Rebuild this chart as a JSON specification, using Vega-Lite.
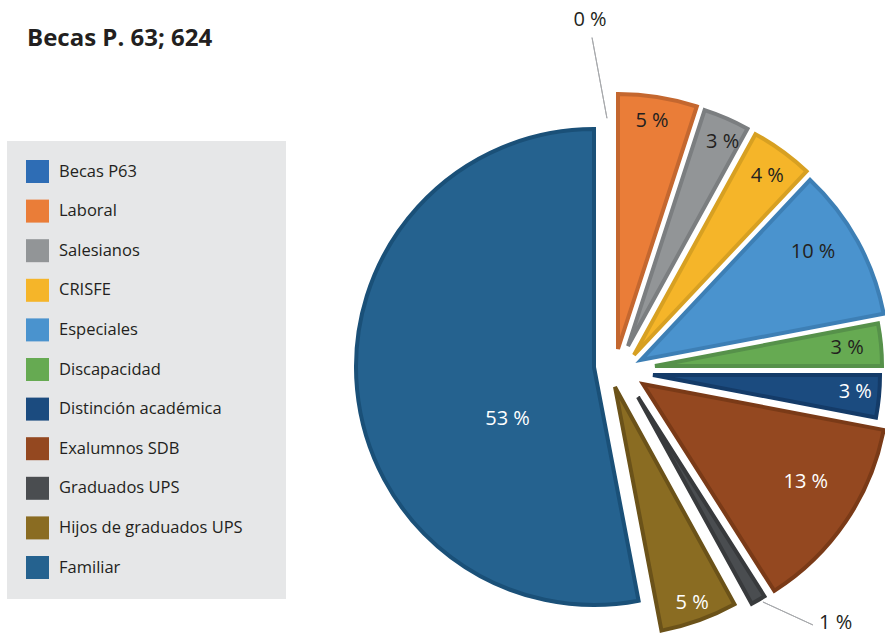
{
  "$schema": "https://vega.github.io/schema/vega-lite/v6.json",
  "width": 582,
  "height": 538,
  "padding": {"left": 303, "top": 98, "right": 0, "bottom": 0},
  "autosize": {"type": "none"},
  "background": "white",
  "title": {"text": "Becas P. 63; 624", "anchor": "start", "frame": "group", "dx": -276, "offset": -41, "font": "Open Sans", "fontSize": 24, "fontWeight": "bold", "color": "#231f20"},
  "config": {"view": {"stroke": null}},
  "data": {"values": [
    {"cat": "Becas P63", "pct": 0, "label": "0 %"},
    {"cat": "Laboral", "pct": 5, "label": "5 %"},
    {"cat": "Salesianos", "pct": 3, "label": "3 %"},
    {"cat": "CRISFE", "pct": 4, "label": "4 %"},
    {"cat": "Especiales", "pct": 10, "label": "10 %"},
    {"cat": "Discapacidad", "pct": 3, "label": "3 %"},
    {"cat": "Distinción académica", "pct": 3, "label": "3 %"},
    {"cat": "Exalumnos SDB", "pct": 13, "label": "13 %"},
    {"cat": "Graduados UPS", "pct": 1, "label": "1 %"},
    {"cat": "Hijos de graduados UPS", "pct": 5, "label": "5 %"},
    {"cat": "Familiar", "pct": 53, "label": "53 %"}
  ]},
  "transform": [{"stack": "pct", "groupby": [], "as": ["t0", "t1"]}],
  "layer": [
    {
      "encoding": {
        "theta": {"field": "t0", "type": "quantitative", "stack": null, "scale": {"domain": [0, 100], "range": [0, 6.283185307179586]}},
        "color": {
          "field": "cat", "type": "nominal",
          "scale": {
            "domain": ["Becas P63", "Laboral", "Salesianos", "CRISFE", "Especiales", "Discapacidad", "Distinción académica", "Exalumnos SDB", "Graduados UPS", "Hijos de graduados UPS", "Familiar"],
            "range": ["#2e6db5", "#ea7d38", "#929597", "#f5b529", "#4a93ce", "#66aa52", "#1b4b7f", "#944820", "#4a4d50", "#8a6c22", "#25628f"]
          },
          "legend": {
            "title": null, "orient": "none", "legendX": -296, "legendY": 43,
            "fillColor": "#e6e7e8", "padding": 19, "symbolType": "square", "symbolSize": 529,
            "symbolStrokeWidth": 0, "labelFont": "Open Sans", "labelFontSize": 16.5, "labelColor": "#231f20",
            "labelOffset": 10, "rowPadding": 16.6, "labelLimit": 400,
            "labelExpr": "datum.label + '\u2800\u2800'"
          }
        }
      },
      "layer": [
        {"transform": [{"filter": "datum.cat === 'Becas P63'"}], "layer": [
          {"mark": {"type": "text", "radius": 347, "thetaOffset": -0.0115, "font": "Open Sans", "fontSize": 20, "align": "center", "baseline": "middle"},
           "encoding": {"text": {"field": "label"}, "color": {"value": "#231f20"}}}
        ]},
        {"transform": [{"filter": "datum.cat === 'Laboral'"}], "layer": [
          {"mark": {"type": "arc", "radius": 255, "stroke": "#c4672f", "strokeWidth": 4, "xOffset": 24, "yOffset": -18}, "encoding": {"theta2": {"field": "t1"}}},
          {"mark": {"type": "text", "radius": 231, "thetaOffset": 0.148, "xOffset": 24, "yOffset": -18, "font": "Open Sans", "fontSize": 20, "align": "center", "baseline": "middle"},
           "encoding": {"text": {"field": "label"}, "color": {"value": "#231f20"}}}
        ]},
        {"transform": [{"filter": "datum.cat === 'Salesianos'"}], "layer": [
          {"mark": {"type": "arc", "radius": 248, "stroke": "#7b7e80", "strokeWidth": 4, "xOffset": 34, "yOffset": -21}, "encoding": {"theta2": {"field": "t1"}}},
          {"mark": {"type": "text", "radius": 225, "thetaOffset": 0.12, "xOffset": 34, "yOffset": -21, "font": "Open Sans", "fontSize": 20, "align": "center", "baseline": "middle"},
           "encoding": {"text": {"field": "label"}, "color": {"value": "#231f20"}}}
        ]},
        {"transform": [{"filter": "datum.cat === 'CRISFE'"}], "layer": [
          {"mark": {"type": "arc", "radius": 252, "stroke": "#d7a022", "strokeWidth": 4, "xOffset": 40, "yOffset": -12}, "encoding": {"theta2": {"field": "t1"}}},
          {"mark": {"type": "text", "radius": 223, "thetaOffset": 0.138, "xOffset": 40, "yOffset": -12, "font": "Open Sans", "fontSize": 20, "align": "center", "baseline": "middle"},
           "encoding": {"text": {"field": "label"}, "color": {"value": "#231f20"}}}
        ]},
        {"transform": [{"filter": "datum.cat === 'Especiales'"}], "layer": [
          {"mark": {"type": "arc", "radius": 247, "stroke": "#3d7fb5", "strokeWidth": 4, "xOffset": 47, "yOffset": -7}, "encoding": {"theta2": {"field": "t1"}}},
          {"mark": {"type": "text", "radius": 203, "thetaOffset": 0.257, "xOffset": 47, "yOffset": -7, "font": "Open Sans", "fontSize": 20, "align": "center", "baseline": "middle"},
           "encoding": {"text": {"field": "label"}, "color": {"value": "#231f20"}}}
        ]},
        {"transform": [{"filter": "datum.cat === 'Discapacidad'"}], "layer": [
          {"mark": {"type": "arc", "radius": 227, "stroke": "#56914a", "strokeWidth": 4, "xOffset": 61, "yOffset": -1}, "encoding": {"theta2": {"field": "t1"}}},
          {"mark": {"type": "text", "radius": 193, "thetaOffset": 0.094, "xOffset": 61, "yOffset": -1, "font": "Open Sans", "fontSize": 20, "align": "center", "baseline": "middle"},
           "encoding": {"text": {"field": "label"}, "color": {"value": "#231f20"}}}
        ]},
        {"transform": [{"filter": "datum.cat === 'Distinción académica'"}], "layer": [
          {"mark": {"type": "arc", "radius": 227, "stroke": "#143b68", "strokeWidth": 4, "xOffset": 59, "yOffset": 8}, "encoding": {"theta2": {"field": "t1"}}},
          {"mark": {"type": "text", "radius": 203, "thetaOffset": 0.084, "xOffset": 59, "yOffset": 8, "font": "Open Sans", "fontSize": 20, "align": "center", "baseline": "middle"},
           "encoding": {"text": {"field": "label"}, "color": {"value": "white"}}}
        ]},
        {"transform": [{"filter": "datum.cat === 'Exalumnos SDB'"}], "layer": [
          {"mark": {"type": "arc", "radius": 245, "stroke": "#7a3a17", "strokeWidth": 4, "xOffset": 49, "yOffset": 17}, "encoding": {"theta2": {"field": "t1"}}},
          {"mark": {"type": "text", "radius": 190, "thetaOffset": 0.353, "xOffset": 49, "yOffset": 17, "font": "Open Sans", "fontSize": 20, "align": "center", "baseline": "middle"},
           "encoding": {"text": {"field": "label"}, "color": {"value": "white"}}}
        ]},
        {"transform": [{"filter": "datum.cat === 'Graduados UPS'"}], "layer": [
          {"mark": {"type": "arc", "radius": 236, "stroke": "#383a3c", "strokeWidth": 4, "xOffset": 44, "yOffset": 30}, "encoding": {"theta2": {"field": "t1"}}},
          {"mark": {"type": "text", "radius": 300, "thetaOffset": -0.154, "xOffset": 44, "yOffset": 30, "font": "Open Sans", "fontSize": 20, "align": "center", "baseline": "middle"},
           "encoding": {"text": {"field": "label"}, "color": {"value": "#231f20"}}}
        ]},
        {"transform": [{"filter": "datum.cat === 'Hijos de graduados UPS'"}], "layer": [
          {"mark": {"type": "arc", "radius": 248, "stroke": "#6b5219", "strokeWidth": 4, "xOffset": 21, "yOffset": 20}, "encoding": {"theta2": {"field": "t1"}}},
          {"mark": {"type": "text", "radius": 229, "thetaOffset": 0.159, "xOffset": 21, "yOffset": 20, "font": "Open Sans", "fontSize": 20, "align": "center", "baseline": "middle"},
           "encoding": {"text": {"field": "label"}, "color": {"value": "white"}}}
        ]},
        {"transform": [{"filter": "datum.cat === 'Familiar'"}], "layer": [
          {"mark": {"type": "arc", "radius": 238, "stroke": "#1a5078", "strokeWidth": 4}, "encoding": {"theta2": {"field": "t1"}}},
          {"mark": {"type": "text", "radius": 101, "thetaOffset": 1.215, "font": "Open Sans", "fontSize": 20, "align": "center", "baseline": "middle"},
           "encoding": {"text": {"field": "label"}, "color": {"value": "white"}}}
        ]}
      ]
    },
    {"transform": [{"filter": "datum.cat === 'Becas P63'"}],
     "mark": {"type": "arc", "theta": -0.183, "theta2": -0.183, "radius": 335, "radius2": 253, "xOffset": 59, "yOffset": 0, "stroke": "#a7a9ac", "strokeWidth": 1, "fillOpacity": 0},
     "encoding": {}},
    {"transform": [{"filter": "datum.cat === 'Graduados UPS'"}],
     "mark": {"type": "arc", "theta": 2.002, "theta2": 2.002, "radius": 165, "radius2": 110, "xOffset": 69, "yOffset": 189, "stroke": "#a7a9ac", "strokeWidth": 1, "fillOpacity": 0},
     "encoding": {}}
  ]
}
